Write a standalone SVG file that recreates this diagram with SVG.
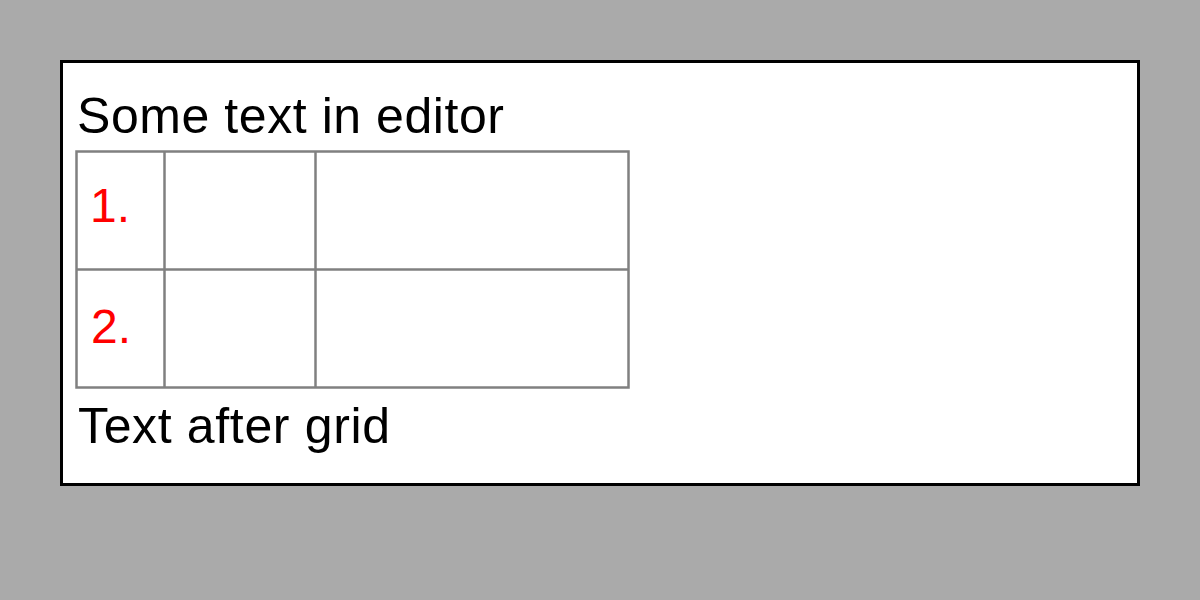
<svg xmlns="http://www.w3.org/2000/svg" width="1200" height="600" viewBox="0 0 1200 600">
<style>
.t{font-family:"Liberation Sans",Arial,sans-serif;font-size:50px;fill:#000}
.n{font-family:"Liberation Sans",Arial,sans-serif;font-size:48px;fill:#ff0000}
.g{fill:none;stroke:#808080;stroke-width:2.5}
</style>
<rect x="0" y="0" width="1200" height="600" fill="#aaaaaa"/>
<g id="editor">
<rect x="61.5" y="61.5" width="1077" height="423" fill="#ffffff" stroke="#000" stroke-width="3"/>
<text class="t" x="77" y="133" textLength="427" lengthAdjust="spacing">Some text in editor</text>
<text class="t" x="78" y="443" textLength="312" lengthAdjust="spacing">Text after grid</text>
</g>
<g id="grid">
<rect class="g" x="76.5" y="151.5" width="552" height="236"/>
<line class="g" x1="76.5" y1="269.5" x2="628.5" y2="269.5"/>
<line class="g" x1="164.5" y1="151.5" x2="164.5" y2="387.5"/>
<line class="g" x1="315.5" y1="151.5" x2="315.5" y2="387.5"/>
</g>
<g id="row1"><text class="n" x="90" y="222">1.</text></g>
<g id="row2"><text class="n" x="91" y="343">2.</text></g>
</svg>
